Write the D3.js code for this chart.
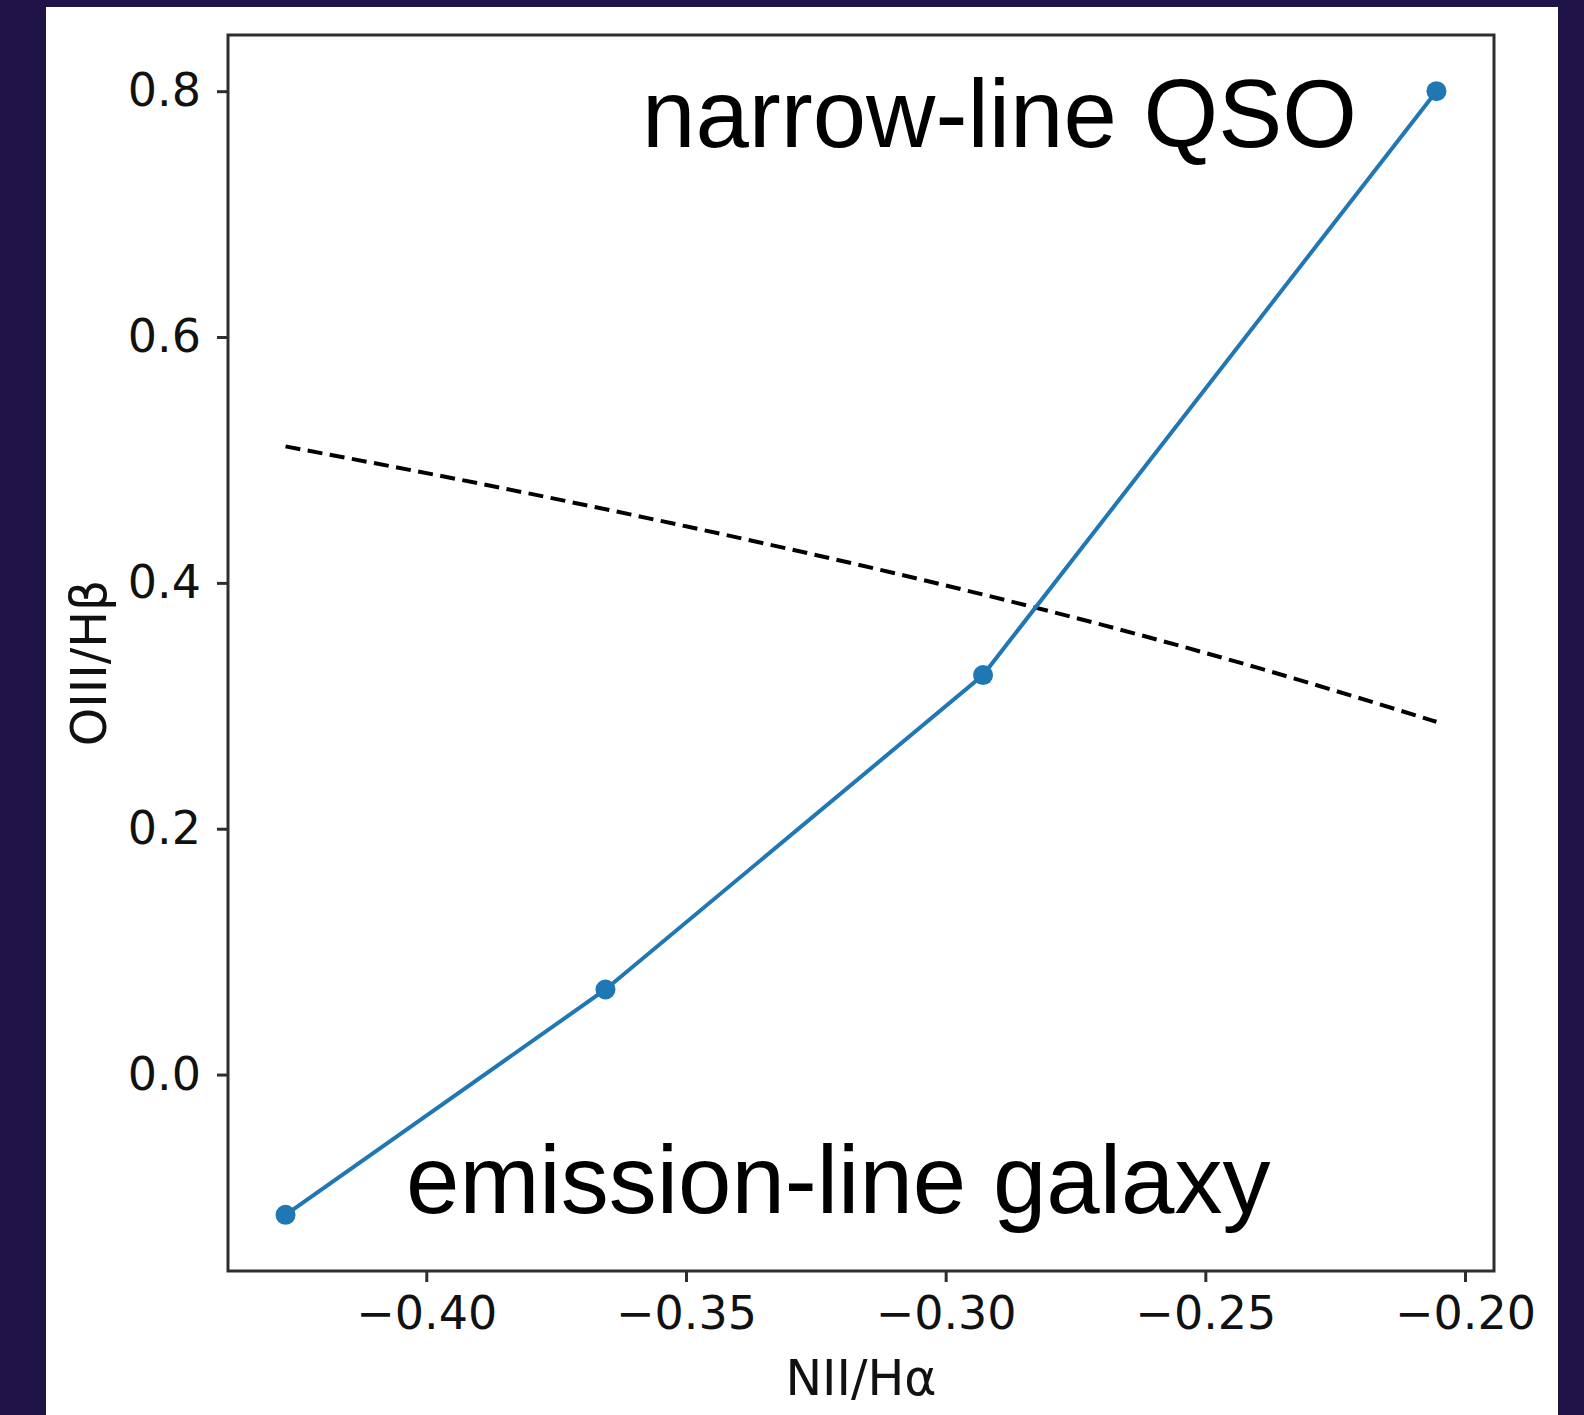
<!DOCTYPE html>
<html>
<head>
<meta charset="utf-8">
<script src="https://cdn.jsdelivr.net/npm/d3@7"></script>
<style>
  html, body { margin: 0; padding: 0; background: #1f1348; }
  svg { display: block; }
</style>
</head>
<body>
<svg id="chart" width="1584" height="1415"></svg>
<script>
// ---- data ----
const niiHa = [-0.4271, -0.3655, -0.2928, -0.2055];      // x of model track points
const oiiiHb = [-0.1141, 0.0692, 0.325, 0.8];           // y of model track points
const divX = [-0.4271, -0.39, -0.35, -0.31, -0.27, -0.24, -0.2055]; // dashed demarcation line
const divY = [0.511, 0.481, 0.446, 0.408, 0.366, 0.331, 0.287];
const xTicks = [-0.40, -0.35, -0.30, -0.25, -0.20];
const yTicks = [0.0, 0.2, 0.4, 0.6, 0.8];
const xLabel = "NII/Hα";
const yLabel = "OIII/Hβ";
const labelTop = "narrow-line QSO";
const labelBottom = "emission-line galaxy";

// ---- layout ----
const svg = d3.select("#chart");
const W = 1584, H = 1415;
const box = { left: 228, right: 1494, top: 35, bottom: 1271 };

svg.append("rect").attr("x", 0).attr("y", 0).attr("width", W).attr("height", H).attr("fill", "#1f1348");
svg.append("rect").attr("x", 46).attr("y", 7).attr("width", 1512).attr("height", H - 7).attr("fill", "#ffffff");

// matplotlib-like 5% margins
const allX = niiHa.concat(divX), allY = oiiiHb.concat(divY);
const [x0, x1] = d3.extent(allX), [y0, y1] = d3.extent(allY);
const mx = (x1 - x0) * 0.05, my = (y1 - y0) * 0.05;
const x = d3.scaleLinear().domain([x0 - mx, x1 + mx]).range([box.left, box.right]);
const y = d3.scaleLinear().domain([y0 - my, y1 + my]).range([box.bottom, box.top]);

const ink = "#2e2e2e";
const tickFont = "'DejaVu Sans', sans-serif";

// x axis
const gx = svg.append("g").attr("transform", `translate(0,${box.bottom})`)
  .call(d3.axisBottom(x).tickValues(xTicks).tickFormat(d3.format(".2f")).tickSizeOuter(0).tickSizeInner(11).tickPadding(14));
gx.select(".domain").remove();
gx.selectAll(".tick line").attr("stroke", ink).attr("stroke-width", 3);
gx.selectAll(".tick text").attr("fill", "#111").attr("font-family", tickFont).attr("font-size", 46);

// y axis
const gy = svg.append("g").attr("transform", `translate(${box.left},0)`)
  .call(d3.axisLeft(y).tickValues(yTicks).tickFormat(d3.format(".1f")).tickSizeOuter(0).tickSizeInner(11).tickPadding(16));
gy.select(".domain").remove();
gy.selectAll(".tick line").attr("stroke", ink).attr("stroke-width", 3);
gy.selectAll(".tick text").attr("fill", "#111").attr("font-family", tickFont).attr("font-size", 46);

// axis labels
svg.append("text").attr("x", (box.left + box.right) / 2).attr("y", 1395)
  .attr("text-anchor", "middle").attr("font-family", tickFont).attr("font-size", 49).attr("fill", "#111")
  .text(xLabel);
svg.append("text").attr("transform", `translate(106,${663}) rotate(-90)`)
  .attr("text-anchor", "middle").attr("font-family", tickFont).attr("font-size", 49).attr("fill", "#111")
  .text(yLabel);

// dashed demarcation line
const divLine = d3.line().x(d => x(d[0])).y(d => y(d[1])).curve(d3.curveMonotoneX);
svg.append("path").datum(d3.zip(divX, divY)).attr("d", divLine)
  .attr("fill", "none").attr("stroke", "#000").attr("stroke-width", 4).attr("stroke-dasharray", "15 7.5");

// model track
const track = d3.line().x(d => x(d[0])).y(d => y(d[1]));
svg.append("path").datum(d3.zip(niiHa, oiiiHb)).attr("d", track)
  .attr("fill", "none").attr("stroke", "#1f77b4").attr("stroke-width", 4);
svg.append("g").selectAll("circle").data(d3.zip(niiHa, oiiiHb)).join("circle")
  .attr("cx", d => x(d[0])).attr("cy", d => y(d[1])).attr("r", 10).attr("fill", "#1f77b4");

// annotations
svg.append("text").attr("x", 642).attr("y", 147)
  .attr("font-family", "'Liberation Sans', Arial, sans-serif").attr("font-size", 96).attr("fill", "#000")
  .text(labelTop);
svg.append("text").attr("x", 406).attr("y", 1213)
  .attr("font-family", "'Liberation Sans', Arial, sans-serif").attr("font-size", 96).attr("fill", "#000")
  .text(labelBottom);

// frame
svg.append("rect").attr("x", box.left).attr("y", box.top)
  .attr("width", box.right - box.left).attr("height", box.bottom - box.top)
  .attr("fill", "none").attr("stroke", ink).attr("stroke-width", 3);
</script>
</body>
</html>
